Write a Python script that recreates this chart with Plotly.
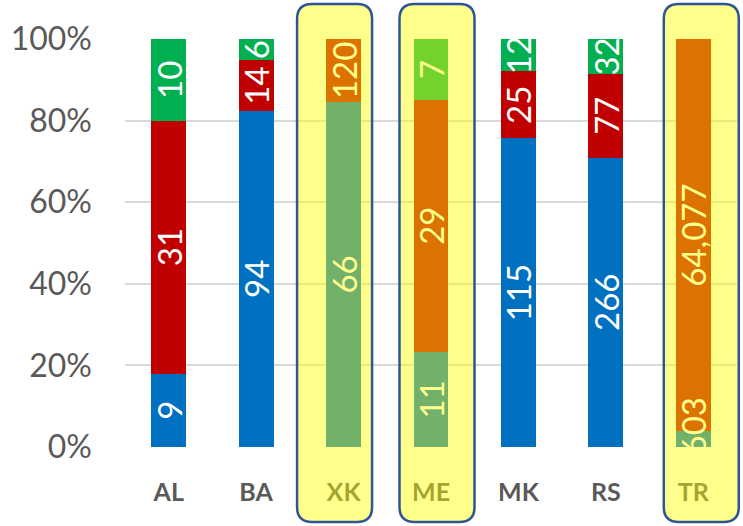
import plotly.graph_objects as go

categories = ["AL", "BA", "XK", "ME", "MK", "RS", "TR"]
blue_vals = [9, 94, 66, 11, 115, 266, 2603]
red_vals = [31, 14, 12, 29, 25, 77, 64077]
green_vals = [10, 6, 0, 7, 12, 32, 0]
blue_text = ["9", "94", "66", "11", "115", "266", "2,603"]
red_text = ["31", "14", "120", "29", "25", "77", "64,077"]
green_text = ["10", "6", "", "7", "12", "32", ""]
y_tick_vals = [0, 20, 40, 60, 80, 100]
y_tick_text = ["0%", "20%", "40%", "60%", "80%", "100%"]
highlighted = ["XK", "ME", "TR"]
# highlight box horizontal offset (px) from category centre, hand-drawn look
box_offsets = {"XK": -9, "ME": 6, "TR": 8}

W, H = 743, 526
ML, MR, MT, MB = 125, 6, 39, 79
PW = W - ML - MR
PH = H - MT - MB

FONT = "Lato"
GRAY = "#595959"

series = [(blue_vals, blue_text, "#0070C0"),
          (red_vals, red_text, "#C00000"),
          (green_vals, green_text, "#00B050")]

fig = go.Figure()
# coloured stacked bars
for vals, txt, col in series:
    fig.add_trace(go.Bar(
        x=categories, y=vals, marker=dict(color=col, line=dict(width=0)),
        hoverinfo="skip", showlegend=False, xaxis="x", yaxis="y",
    ))
# identical transparent stack on an overlaid subplot, carrying the labels on top
for vals, txt, col in series:
    fig.add_trace(go.Bar(
        x=categories, y=vals, text=txt,
        marker=dict(color="rgba(0,0,0,0)", line=dict(width=0)),
        textposition="inside", insidetextanchor="middle", textangle=-90,
        constraintext="none", texttemplate="%{text}",
        textfont=dict(family=FONT, size=33, color="white"),
        hoverinfo="skip", showlegend=False, xaxis="x2", yaxis="y2",
    ))

fig.update_layout(
    width=W, height=H, barmode="stack", barnorm="percent", bargap=0.6,
    margin=dict(l=ML, r=MR, t=MT, b=MB),
    paper_bgcolor="white", plot_bgcolor="white",
    font=dict(family=FONT, color=GRAY),
    xaxis=dict(range=[-0.5, 6.5], showgrid=False, showline=False, zeroline=False,
               tickfont=dict(family=FONT, size=25, color=GRAY, weight="bold"),
               ticklabelstandoff=28),
    yaxis=dict(range=[0, 100], tickmode="array", tickvals=y_tick_vals, ticktext=y_tick_text,
               showgrid=True, gridcolor="#D9D9D9", gridwidth=1.5, zeroline=False,
               showline=False, tickfont=dict(family=FONT, size=32, color=GRAY),
               ticklabelstandoff=32),
    xaxis2=dict(overlaying="x", range=[-0.5, 6.5], visible=False),
    yaxis2=dict(overlaying="y", range=[0, 100], visible=False),
)

# semi-transparent highlight boxes with rounded corners
bw, r = 75, 15
top_px, bot_px = 4, 522
for cat in highlighted:
    i = categories.index(cat)
    cx = ML + (i + 0.5) * PW / len(categories) + box_offsets[cat]
    x0p, x1p = cx - bw / 2, cx + bw / 2
    px = lambda v: (v - ML) / PW
    py = lambda v: (H - MB - v) / PH
    x0, x1 = px(x0p), px(x1p)
    y0, y1 = py(bot_px), py(top_px)
    rx, ry = r / PW, r / PH
    path = (f"M {x0+rx},{y1} L {x1-rx},{y1} Q {x1},{y1} {x1},{y1-ry} "
            f"L {x1},{y0+ry} Q {x1},{y0} {x1-rx},{y0} L {x0+rx},{y0} "
            f"Q {x0},{y0} {x0},{y0+ry} L {x0},{y1-ry} Q {x0},{y1} {x0+rx},{y1} Z")
    fig.add_shape(type="path", path=path, xref="paper", yref="paper",
                  fillcolor="rgba(255,255,0,0.45)",
                  line=dict(color="#2F5597", width=2.5), layer="above")

fig.write_html("out.html", config={"displayModeBar": False},
               post_script="document.body.style.margin='0';")
